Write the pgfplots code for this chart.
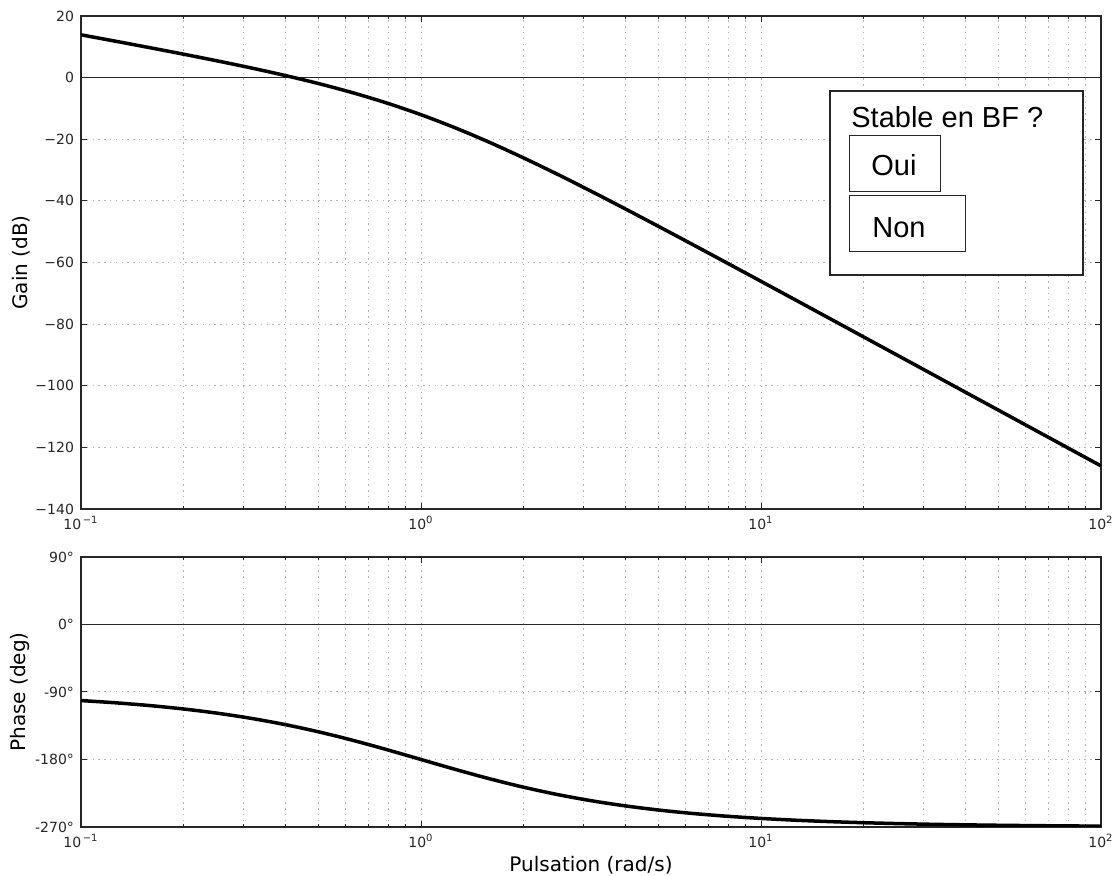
\documentclass[border=0pt]{standalone}
\usepackage{pgfplots}
\pgfplotsset{compat=1.18}
\usepackage{fontspec}
\setmainfont{DejaVu Sans}
\newfontfamily\arialfont{Liberation Sans}

\pgfplotstableread{
w gain phase
0.1 13.893 -101.42
0.12589 11.843 -104.35
0.15849 9.764 -108.01
0.19953 7.640 -112.57
0.25119 5.447 -118.20
0.31623 3.152 -125.10
0.39811 0.702 -133.41
0.50119 -1.967 -143.24
0.63096 -4.932 -154.50
0.79433 -8.269 -166.92
1.0 -12.041 -180.00
1.2589 -16.270 -193.08
1.5849 -20.932 -205.50
1.9953 -25.967 -216.76
2.5119 -31.298 -226.59
3.1623 -36.849 -234.90
3.9811 -42.552 -241.80
5.0119 -48.360 -247.43
6.3096 -54.236 -252.00
7.9433 -60.157 -255.65
10.0 -66.107 -258.58
12.589 -72.075 -260.92
15.849 -78.055 -262.78
19.953 -84.043 -264.26
25.119 -90.034 -265.44
31.623 -96.029 -266.38
39.811 -102.026 -267.12
50.119 -108.024 -267.71
63.096 -114.023 -268.18
79.433 -120.022 -268.56
100.0 -126.021 -268.85
}\bode

\pgfplotsset{
  every axis/.append style={
    scale only axis,
    width=510pt,
    xmin=0.1, xmax=100,
    xtick={0.1,1,10,100},
    xticklabels={10\textsuperscript{\,−1},10\textsuperscript{0},10\textsuperscript{1},10\textsuperscript{2}},
    minor xtick={0.2,0.3,0.4,0.5,0.6,0.7,0.8,0.9,2,3,4,5,6,7,8,9,20,30,40,50,60,70,80,90},
    xmajorgrids, xminorgrids, ymajorgrids,
    grid style={gray!60, line width=0.5pt, dash pattern=on 0.7pt off 2.2pt},
    minor grid style={gray!60, line width=0.5pt, dash pattern=on 0.7pt off 2.2pt},
    tick align=inside,
    tick pos=both,
    major tick length=3pt,
    minor tick length=1.6pt,
    every tick/.style={black!85, line width=0.5pt},
    axis line style={black!85, line width=1pt},
    tick label style={font=\fontsize{7}{8.4}\selectfont, text=black!85},
    label style={font=\fontsize{8.4}{10}\selectfont, text=black!85},
  }
}

\begin{document}
\begin{tikzpicture}
\useasboundingbox (-40.5pt,-24.5pt) rectangle (518pt,413.5pt);

\begin{semilogxaxis}[
  at={(0pt,159pt)}, anchor=south west,
  height=246.5pt,
  ymin=-140, ymax=20,
  ytick={-140,-120,-100,-80,-60,-40,-20,0,20},
  yticklabels={−140,−120,−100,−80,−60,−40,−20,0,20},
  ylabel={Gain (dB)},
  every axis y label/.style={at={(axis description cs:-0.0588,0.5)}, anchor=center, rotate=90},
]
\addplot[black!85, line width=0.8pt, forget plot] coordinates {(0.1,0) (100,0)};
\addplot[black, line width=1.75pt, smooth] table[x=w, y=gain] {\bode};
\draw[black!85, line width=0.6pt, fill=white] (rel axis cs:0.7343,0.4746) rectangle (rel axis cs:0.9824,0.8479);
\draw[black!85, line width=0.5pt] (rel axis cs:0.7539,0.6450) rectangle (rel axis cs:0.8422,0.7566);
\draw[black!85, line width=0.5pt] (rel axis cs:0.7539,0.5213) rectangle (rel axis cs:0.8667,0.6349);
\node[anchor=base west, inner sep=0pt, font=\arialfont\fontsize{14.5}{17}\selectfont] at (rel axis cs:0.7549,0.7728) {Stable en BF ?};
\node[anchor=base west, inner sep=0pt, font=\arialfont\fontsize{14.5}{17}\selectfont] at (rel axis cs:0.7745,0.6755) {Oui};
\node[anchor=base west, inner sep=0pt, font=\arialfont\fontsize{14.5}{17}\selectfont] at (rel axis cs:0.7755,0.5517) {Non};
\end{semilogxaxis}

\begin{semilogxaxis}[
  at={(0pt,0pt)}, anchor=south west,
  height=135pt,
  ymin=-270, ymax=90,
  ytick={-270,-180,-90,0,90},
  yticklabels={-270°,-180°,-90°,0°,90°},
  ylabel={Phase (deg)},
  xlabel={Pulsation (rad/s)},
  every axis y label/.style={at={(axis description cs:-0.0598,0.5)}, anchor=center, rotate=90},
  every axis x label/.style={at={(axis description cs:0.5,-0.1407)}, anchor=center},
]
\addplot[black!85, line width=0.8pt, forget plot] coordinates {(0.1,0) (100,0)};
\addplot[black, line width=1.75pt, smooth] table[x=w, y=phase] {\bode};
\end{semilogxaxis}
\end{tikzpicture}
\end{document}
